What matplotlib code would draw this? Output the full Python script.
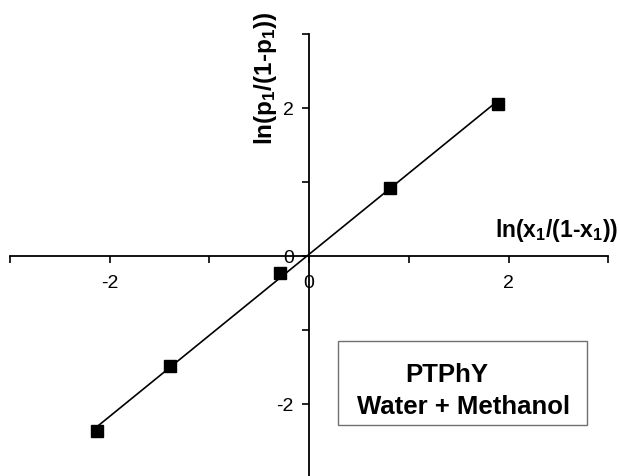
import numpy as np
import matplotlib.pyplot as plt

plt.rcParams['font.family'] = ['Liberation Sans', 'DejaVu Sans']
plt.rcParams['mathtext.fontset'] = 'custom'
plt.rcParams['mathtext.rm'] = 'Liberation Sans:bold'
plt.rcParams['mathtext.it'] = 'Liberation Sans:bold'
plt.rcParams['mathtext.bf'] = 'Liberation Sans:bold'

# data
lnX = [-2.13, -1.39, -0.29, 0.81, 1.89]
lnP = [-2.36, -1.49, -0.23, 0.92, 2.05]
xTicks = [-3, -2, -1, 0, 1, 2, 3]
xTickLabels = ['', '-2', '', '0', '', '2', '']
yTicks = [-3, -2, -1, 0, 1, 2, 3]
yTickLabels = ['', '-2', '', '0', '', '2', '']


def plotLogitChart():
    fig = plt.figure(figsize=(6.2, 4.77), dpi=100)
    ax = fig.add_axes([0.016, -0.004, 0.965, 0.931])

    # straight-line fit drawn between the outer points
    slope, intercept = np.polyfit(lnX, lnP, 1)
    xs = np.array([min(lnX), max(lnX)])
    ax.plot(xs, slope * xs + intercept, color='black', linewidth=1.2)
    ax.plot(lnX, lnP, linestyle='none', marker='s', markersize=8.5, color='black')

    ax.set_xlim(-3, 3)
    ax.set_ylim(-3, 3)
    for side in ['top', 'right']:
        ax.spines[side].set_visible(False)
    ax.spines['left'].set_position(('data', 0))
    ax.spines['bottom'].set_position(('data', 0))
    ax.spines['left'].set_linewidth(1.3)
    ax.spines['bottom'].set_linewidth(1.3)

    ax.set_xticks(xTicks)
    ax.set_xticklabels(xTickLabels)
    ax.set_yticks(yTicks)
    ax.set_yticklabels(yTickLabels)
    ax.tick_params(axis='both', direction='out', length=5, width=1.2, labelsize=14)
    ax.tick_params(axis='x', pad=8)
    ax.tick_params(axis='y', pad=6)
    ax.patch.set_visible(False)

    ax.text(3.10, 0.27, r'ln(x$_1$/(1-x$_1$))', ha='right', va='baseline', fontsize=16.5, fontweight='bold')
    ax.text(-0.44, 1.51, r'ln(p$_1$/(1-p$_1$))', ha='center', va='bottom', rotation=90,
            fontsize=17.5, fontweight='bold')

    box = plt.Rectangle((0.29, -2.29), 2.5, 1.14, fill=False, edgecolor='#707070', linewidth=1.0)
    ax.add_patch(box)
    ax.text(1.38, -1.59, 'PTPhY', ha='center', va='center', fontsize=18.5, fontweight='bold')
    ax.text(1.55, -2.03, 'Water + Methanol', ha='center', va='center', fontsize=18.5, fontweight='bold')

    fig.savefig('out.png', dpi=100)


def main():
    plotLogitChart()
    return

if __name__ == "__main__":
    main()
